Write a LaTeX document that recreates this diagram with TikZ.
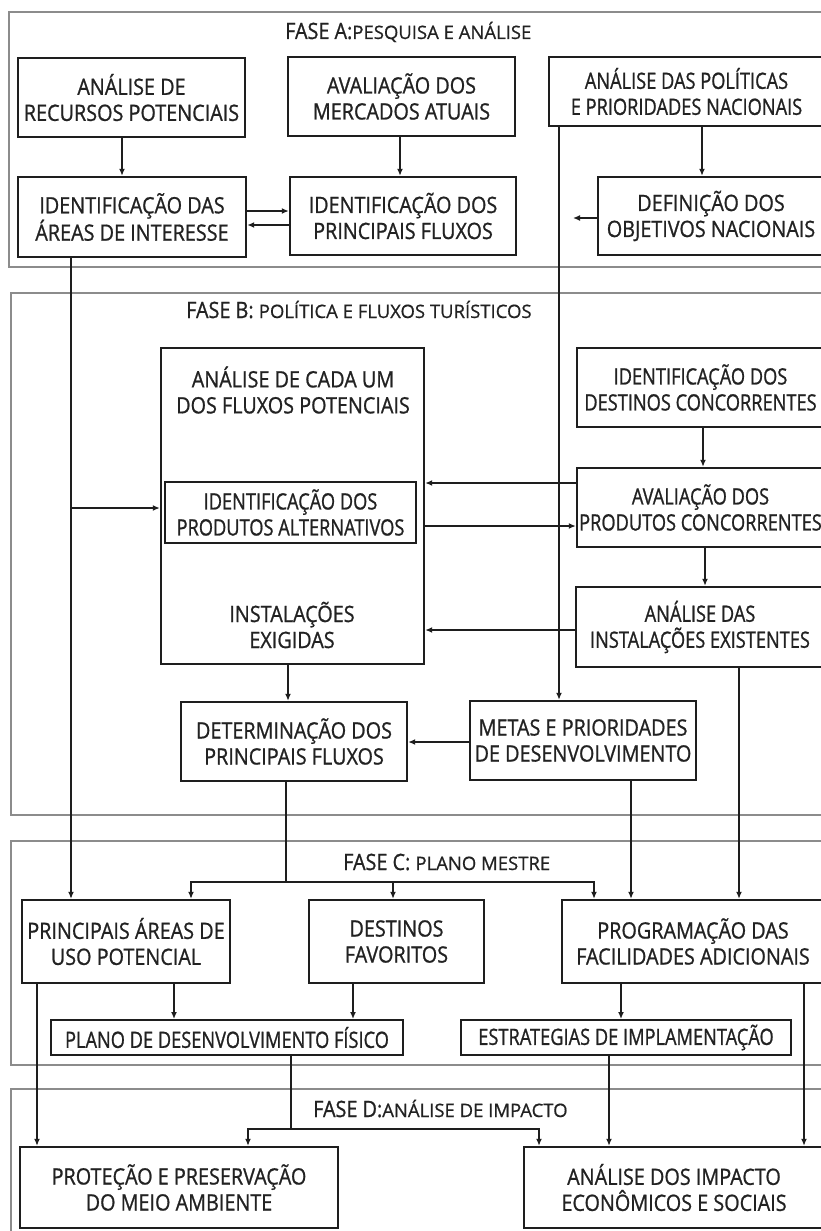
\documentclass[tikz,border=0pt]{standalone}
\usepackage{fontspec}
\setmainfont{Open Sans}[FakeStretch=0.88,FakeBold=0.9]
\newfontfamily\narrowfont{Open Sans}[FakeStretch=0.81,FakeBold=0.9]
\newfontfamily\widefont{Open Sans}[FakeBold=0.7]
\usetikzlibrary{arrows.meta}
\definecolor{ink}{HTML}{1E1E1E}
\definecolor{txt}{HTML}{222222}
\definecolor{phaseline}{HTML}{8C8C8C}
\newcommand\boxfont{\fontsize{22.5}{26}\selectfont}
\newcommand\tightfont{\narrowfont\fontsize{22.5}{26}\selectfont}
\newcommand\phasebig{\fontsize{22.5}{26}\selectfont}
\newcommand\phasesmall{\widefont\fontsize{18.5}{21}\selectfont}
\tikzset{
  box/.style={draw=ink, line width=2.4pt, fill=white, align=center, text=txt,
              font=\boxfont, inner sep=0pt},
  tight/.style={font=\tightfont},
  thinbox/.style={box, line width=2pt},
  label/.style={align=center, text=txt, font=\boxfont, inner sep=0pt},
  phase/.style={draw=phaseline, line width=1.8pt},
  phasetitle/.style={text=txt, font=\phasebig, inner sep=0pt, anchor=base west},
  conn/.style={draw=ink, line width=2pt, -{Latex[length=7pt,width=6pt]}},
  wire/.style={draw=ink, line width=2pt},
}
\begin{document}
\begin{tikzpicture}[x=1pt,y=-1pt]
\useasboundingbox (0,0) rectangle (821,1231);
\clip (0,0) rectangle (821,1231);
\fill[white] (0,0) rectangle (821,1231);

% phase frames
\draw[phase] (9,12) rectangle (830,267);
\draw[phase] (11,293) rectangle (830,815);
\draw[phase] (11,841) rectangle (830,1065);
\draw[phase] (11,1089) rectangle (830,1250);

% phase titles
\node[phasetitle] (ta) at (285,39) {FASE A:{\phasesmall PESQUISA E ANÁLISE}};
\node[phasetitle] (tb) at (186,318) {FASE B: {\phasesmall POLÍTICA E FLUXOS TURÍSTICOS}};
\node[phasetitle] (tc) at (343,870) {FASE C: {\phasesmall PLANO MESTRE}};
\node[phasetitle] (td) at (313,1117) {FASE D:{\phasesmall ANÁLISE DE IMPACTO}};

% phase A
\node[box, minimum width=227pt, minimum height=79pt] (a1) at (131.5,97.5) {ANÁLISE DE\\RECURSOS POTENCIAIS};
\node[box, minimum width=227pt, minimum height=79pt] (a2) at (401.5,96.5) {AVALIAÇÃO DOS\\MERCADOS ATUAIS};
\node[box, tight, minimum width=275pt, minimum height=69pt] (a3) at (686.5,91.5) {ANÁLISE DAS POLÍTICAS\\E PRIORIDADES NACIONAIS};
\node[box, minimum width=228pt, minimum height=80pt] (a4) at (132,217) {IDENTIFICAÇÃO DAS\\ÁREAS DE INTERESSE};
\node[box, minimum width=226pt, minimum height=78pt] (a5) at (403,216) {IDENTIFICAÇÃO DOS\\PRINCIPAIS FLUXOS};
\node[box, minimum width=226pt, minimum height=78pt] (a6) at (711,216) {DEFINIÇÃO DOS\\OBJETIVOS NACIONAIS};

% phase B
\node[box, minimum width=263pt, minimum height=316pt] (b1) at (292.5,506) {};
\node[label] (b1top) at (293,390) {ANÁLISE DE CADA UM\\DOS FLUXOS POTENCIAIS};
\node[label] (b1bot) at (292,625) {INSTALAÇÕES\\EXIGIDAS};
\node[thinbox, tight, minimum width=251pt, minimum height=61pt] (alt) at (290.5,512.5) {IDENTIFICAÇÃO DOS\\PRODUTOS ALTERNATIVOS};
\node[box, tight, minimum width=247pt, minimum height=79pt] (b2) at (700.5,387.5) {IDENTIFICAÇÃO DOS\\DESTINOS CONCORRENTES};
\node[box, tight, minimum width=247pt, minimum height=79pt] (b3) at (700.5,507.5) {AVALIAÇÃO DOS\\PRODUTOS CONCORRENTES};
\node[box, tight, minimum width=248pt, minimum height=80pt] (b4) at (700,627) {ANÁLISE DAS\\INSTALAÇÕES EXISTENTES};
\node[box, minimum width=226pt, minimum height=79pt] (b5) at (294,741.5) {DETERMINAÇÃO DOS\\PRINCIPAIS FLUXOS};
\node[box, minimum width=226pt, minimum height=79pt] (b6) at (583,740.5) {METAS E PRIORIDADES\\DE DESENVOLVIMENTO};

% phase C
\node[box, minimum width=208pt, minimum height=83pt] (c1) at (126,941.5) {PRINCIPAIS ÁREAS DE\\USO POTENCIAL};
\node[box, minimum width=175pt, minimum height=83pt] (c2) at (396.5,941.5) {DESTINOS\\FAVORITOS};
\node[box, minimum width=262pt, minimum height=83pt] (c3) at (693,941.5) {PROGRAMAÇÃO DAS\\FACILIDADES ADICIONAIS};
\node[thinbox, tight, minimum width=352pt, minimum height=35pt] (c4) at (227,1037.5) {PLANO DE DESENVOLVIMENTO FÍSICO};
\node[thinbox, tight, minimum width=330pt, minimum height=35pt] (c5) at (626,1037.5) {ESTRATEGIAS DE IMPLAMENTAÇÃO};

% phase D
\node[box, minimum width=318pt, minimum height=81pt] (d1) at (179,1187.5) {PROTEÇÃO E PRESERVAÇÃO\\DO MEIO AMBIENTE};
\node[box, minimum width=300pt, minimum height=81pt] (d2) at (674,1187.5) {ANÁLISE DOS IMPACTO\\ECONÔMICOS E SOCIAIS};

% connector columns and rows
\coordinate (xA1) at (122,0);
\coordinate (xA2) at (400,0);
\coordinate (xA3) at (702,0);
\coordinate (xPol) at (559,0);
\coordinate (xL) at (71,0);
\coordinate (yRight) at (0,211);
\coordinate (yLeft) at (0,225);
\coordinate (aimA) at (573,218);
\coordinate (brL) at (71,508);
\coordinate (xB2) at (703,0);
\coordinate (xB3) at (705,0);
\coordinate (yCmp) at (0,483);
\coordinate (yAlt) at (0,526);
\coordinate (yExist) at (0,630);
\coordinate (xB1) at (288,0);
\coordinate (yMetas) at (0,742);
\coordinate (jB) at (286,882);
\coordinate (xC1a) at (191,0);
\coordinate (xC2a) at (393,0);
\coordinate (xC3a) at (594,0);
\coordinate (xB6) at (631,0);
\coordinate (xB4) at (739,0);
\coordinate (xC1b) at (174,0);
\coordinate (xC2b) at (353,0);
\coordinate (xC3b) at (621,0);
\coordinate (xD1a) at (37,0);
\coordinate (jD) at (291,1129);
\coordinate (xD1b) at (248,0);
\coordinate (xD2a) at (539,0);
\coordinate (xC5) at (609,0);
\coordinate (xC3c) at (804,0);

% phase A links
\draw[conn] (a1.south -| xA1) -- (a4.north -| xA1);
\draw[conn] (a2.south -| xA2) -- (a5.north -| xA2);
\draw[conn] (a3.south -| xA3) -- (a6.north -| xA3);
\draw[conn] (a4.east |- yRight) -- (a5.west |- yRight);
\draw[conn] (a5.west |- yLeft) -- (a4.east |- yLeft);
\draw[conn] (a6.west |- aimA) -- (aimA);

% long verticals into later phases
\draw[conn] (a3.south -| xPol) -- (b6.north -| xPol);
\draw[conn] (a4.south -| xL) -- (c1.north -| xL);
\draw[conn] (brL) -- (b1.west |- brL);

% phase B links
\draw[conn] (b2.south -| xB2) -- (b3.north -| xB2);
\draw[conn] (b3.south -| xB3) -- (b4.north -| xB3);
\draw[conn] (b3.west |- yCmp) -- (b1.east |- yCmp);
\draw[conn] (b1.east |- yAlt) -- (b3.west |- yAlt);
\draw[conn] (b4.west |- yExist) -- (b1.east |- yExist);
\draw[conn] (b1.south -| xB1) -- (b5.north -| xB1);
\draw[conn] (b6.west |- yMetas) -- (b5.east |- yMetas);

% phase B to phase C
\draw[wire] (b5.south -| jB) -- (jB);
\draw[conn] (jB) -| (c1.north -| xC1a);
\draw[conn] (jB) -| (c2.north -| xC2a);
\draw[conn] (jB) -| (c3.north -| xC3a);
\draw[conn] (b6.south -| xB6) -- (c3.north -| xB6);
\draw[conn] (b4.south -| xB4) -- (c3.north -| xB4);

% phase C links
\draw[conn] (c1.south -| xC1b) -- (c4.north -| xC1b);
\draw[conn] (c2.south -| xC2b) -- (c4.north -| xC2b);
\draw[conn] (c3.south -| xC3b) -- (c5.north -| xC3b);

% phase C to phase D
\draw[conn] (c1.south -| xD1a) -- (d1.north -| xD1a);
\draw[wire] (c4.south -| jD) -- (jD);
\draw[conn] (jD) -| (d1.north -| xD1b);
\draw[conn] (jD) -| (d2.north -| xD2a);
\draw[conn] (c5.south -| xC5) -- (d2.north -| xC5);
\draw[conn] (c3.south -| xC3c) -- (d2.north -| xC3c);
\end{tikzpicture}
\end{document}
